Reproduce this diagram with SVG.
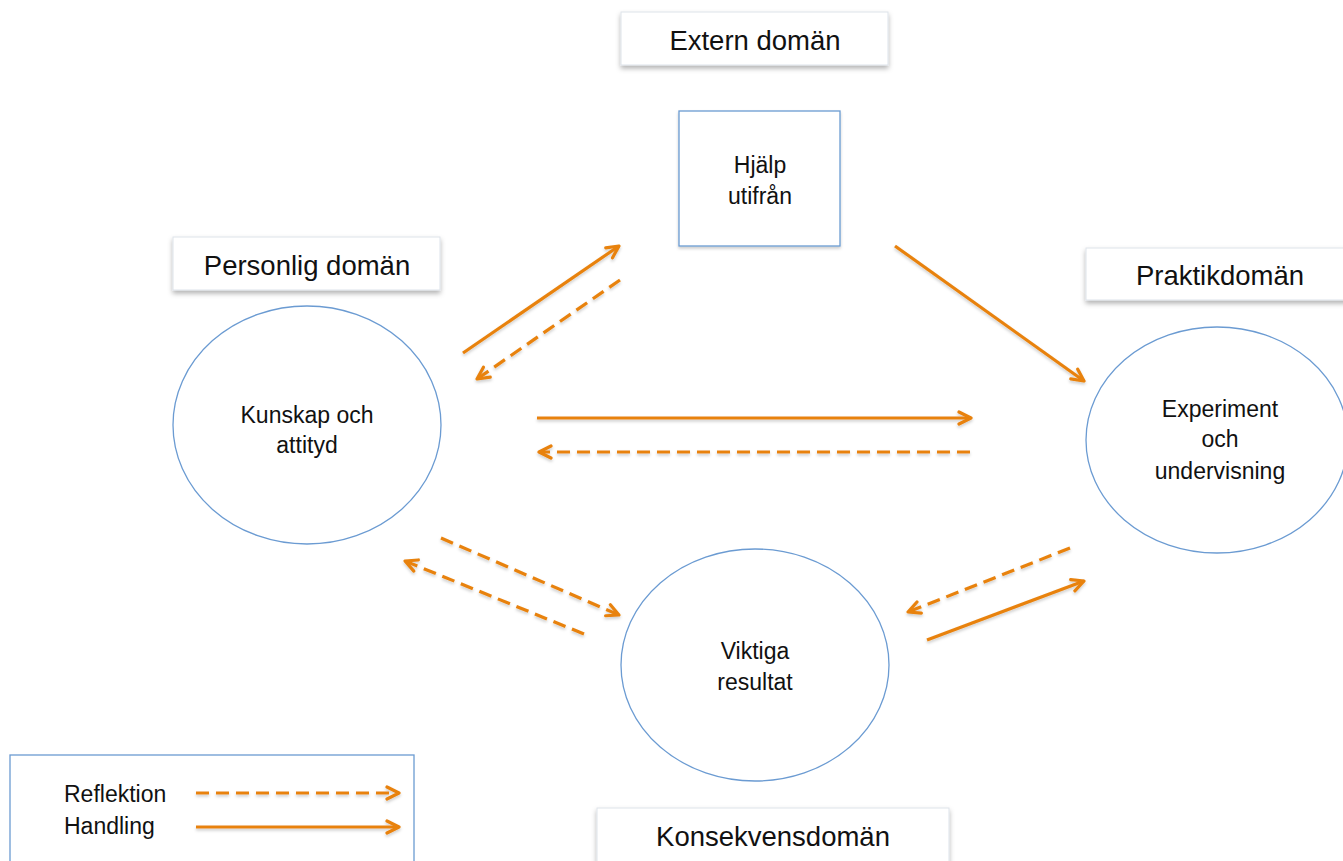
<svg xmlns="http://www.w3.org/2000/svg" width="1343" height="861" viewBox="0 0 1343 861">
<defs>
<filter id="sh" x="-10%" y="-20%" width="120%" height="160%">
<feDropShadow dx="0" dy="3" stdDeviation="2.5" flood-color="#000" flood-opacity="0.3"/>
</filter>
<filter id="ash" filterUnits="userSpaceOnUse" x="0" y="0" width="1343" height="861">
<feDropShadow dx="0" dy="2" stdDeviation="1.5" flood-color="#000" flood-opacity="0.2"/>
</filter>
<marker id="ahs" viewBox="0 0 16 16" refX="14" refY="8" markerWidth="16" markerHeight="16" markerUnits="userSpaceOnUse" orient="auto">
<path d="M2,2 L14,8 L2,14" fill="none" stroke="#E8820E" stroke-width="3.2" stroke-linecap="round" stroke-linejoin="round"/>
</marker>
</defs>
<style>
text{font-family:"Liberation Sans",Arial,sans-serif;fill:#111;text-anchor:middle}
.lbl{font-size:27.5px}
.nt{font-size:23px}
.lb{fill:#fff;stroke:#dde3ea;stroke-width:1;filter:url(#sh)}
.nd{fill:#fff;stroke:#6B9BD2;stroke-width:1.3}
.a{fill:none;stroke:#E8820E;stroke-width:3.2;marker-end:url(#ahs);filter:url(#ash)}
.d{stroke-dasharray:13 7}
</style>
<rect width="1343" height="861" fill="#fff"/>
<g id="lbl-extern"><rect class="lb" x="621" y="12" width="267" height="53"/><text class="lbl" x="755" y="50">Extern domän</text></g>
<g id="lbl-personlig"><rect class="lb" x="173" y="237" width="267" height="53"/><text class="lbl" x="307" y="275">Personlig domän</text></g>
<g id="lbl-praktik"><rect class="lb" x="1086" y="248" width="262" height="52"/><text class="lbl" x="1220" y="285">Praktikdomän</text></g>
<g id="lbl-konsekvens"><rect class="lb" x="597" y="808" width="352" height="60"/><text class="lbl" x="773" y="846">Konsekvensdomän</text></g>
<g id="n-hjalp"><rect class="nd" x="679" y="111" width="161" height="135" filter="url(#ash)"/><text class="nt" x="760" y="173">Hjälp</text><text class="nt" x="760" y="204">utifrån</text></g>
<g id="n-kunskap"><ellipse class="nd" cx="307" cy="425" rx="134" ry="119"/><text class="nt" x="307" y="423">Kunskap och</text><text class="nt" x="307" y="453">attityd</text></g>
<g id="n-experiment"><ellipse class="nd" cx="1217" cy="440" rx="131" ry="113"/><text class="nt" x="1220" y="417">Experiment</text><text class="nt" x="1220" y="447">och</text><text class="nt" x="1220" y="479">undervisning</text></g>
<g id="n-viktiga"><ellipse class="nd" cx="755" cy="665" rx="134" ry="116"/><text class="nt" x="755" y="659">Viktiga</text><text class="nt" x="755" y="690">resultat</text></g>
<g id="connectors">
<line class="a" x1="463" y1="353" x2="619" y2="246"/>
<line class="a d" x1="620" y1="280" x2="477" y2="379"/>
<line class="a" x1="895" y1="246" x2="1084" y2="381"/>
<line class="a" x1="537" y1="418" x2="971" y2="418"/>
<line class="a d" x1="970" y1="452" x2="539" y2="452"/>
<line class="a d" x1="441" y1="538" x2="619" y2="615"/>
<line class="a d" x1="584" y1="634" x2="405" y2="561"/>
<line class="a d" x1="1070" y1="548" x2="908" y2="612"/>
<line class="a" x1="927" y1="640" x2="1084" y2="581"/>
</g>
<g id="legend">
<rect x="10" y="755" width="404" height="120" fill="#fff" stroke="#6B9BD2" stroke-width="1.3"/>
<text x="64" y="802" style="font-size:23px;text-anchor:start">Reflektion</text>
<text x="64" y="834" style="font-size:23px;text-anchor:start">Handling</text>
<line class="a d" x1="196" y1="793" x2="399" y2="793"/>
<line class="a" x1="196" y1="827" x2="399" y2="827"/>
</g>
</svg>
